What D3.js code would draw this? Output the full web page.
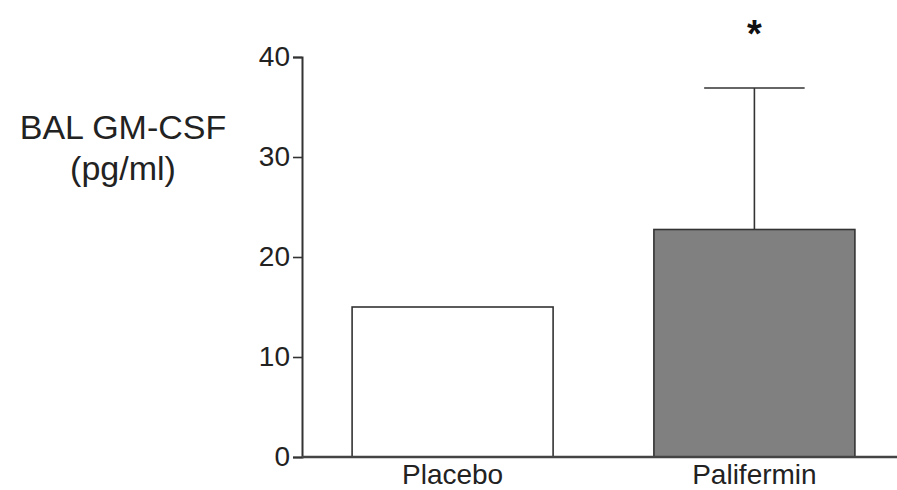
<!DOCTYPE html>
<html>
<head>
<meta charset="utf-8">
<script src="https://cdn.jsdelivr.net/npm/d3@7"></script>
<style>
  body { margin: 0; background: #fff; }
  text { font-family: Arial, "Liberation Sans", sans-serif; fill: #222; }
</style>
</head>
<body>
<svg id="chart"></svg>
<script>
const W = 897, H = 490;
const margin = {top: 57, right: 0, bottom: 33, left: 302};

// data
const groups = ['Placebo', 'Palifermin'];
const means = [15.0, 22.75];
const errUpper = [null, 36.9];
const marks = ['', '*'];
const fills = ['#ffffff', '#808080'];
const yTicks = [0, 10, 20, 30, 40];

const svg = d3.select("#chart")
    .attr("width", W)
    .attr("height", H);

const y = d3.scaleLinear()
    .domain([0, 40])
    .range([H - margin.bottom, margin.top]);

const x = d3.scaleBand()
    .domain(groups)
    .range([margin.left, 905])
    .paddingInner(0.334)
    .paddingOuter(0.166);

// bars
svg.selectAll(".bar")
    .data(groups)
    .enter()
    .append("rect")
    .attr("class", "bar")
    .attr("x", d => x(d))
    .attr("width", x.bandwidth())
    .attr("y", (d, i) => y(means[i]))
    .attr("height", (d, i) => y(0) - y(means[i]))
    .attr("fill", (d, i) => fills[i])
    .attr("stroke", "#333")
    .attr("stroke-width", 1.6);

// error bars (upper only)
groups.forEach((g, i) => {
    if (errUpper[i] == null) return;
    const cx = x(g) + x.bandwidth() / 2;
    svg.append("line")
        .attr("x1", cx).attr("x2", cx)
        .attr("y1", y(means[i])).attr("y2", y(errUpper[i]))
        .attr("stroke", "#333").attr("stroke-width", 1.6);
    svg.append("line")
        .attr("x1", cx - x.bandwidth() / 4).attr("x2", cx + x.bandwidth() / 4)
        .attr("y1", y(errUpper[i])).attr("y2", y(errUpper[i]))
        .attr("stroke", "#333").attr("stroke-width", 1.6);
});

// significance star
svg.selectAll(".mark")
    .data(groups)
    .enter()
    .append("text")
    .attr("class", "mark")
    .attr("x", d => x(d) + x.bandwidth() / 2)
    .attr("y", 47)
    .attr("text-anchor", "middle")
    .attr("font-size", "38px")
    .attr("font-weight", "bold")
    .style("fill", "#111")
    .text((d, i) => marks[i]);

// y axis
const yAxis = d3.axisLeft(y)
    .tickValues(yTicks)
    .tickSize(9)
    .tickPadding(3);

const yg = svg.append("g")
    .attr("transform", `translate(${margin.left},0)`)
    .call(yAxis);
yg.select(".domain").attr("stroke", "#333").attr("stroke-width", 2);
yg.selectAll(".tick line").attr("stroke", "#333").attr("stroke-width", 1.6);
yg.selectAll(".tick text")
    .attr("font-size", "28px")
    .attr("fill", "#222")
    .style("font-family", "Arial, 'Liberation Sans', sans-serif");

// baseline
svg.append("line")
    .attr("x1", margin.left).attr("x2", W)
    .attr("y1", y(0)).attr("y2", y(0))
    .attr("stroke", "#444").attr("stroke-width", 2.5);

// category labels
svg.selectAll(".cat")
    .data(groups)
    .enter()
    .append("text")
    .attr("class", "cat")
    .attr("x", d => x(d) + x.bandwidth() / 2)
    .attr("y", 484)
    .attr("text-anchor", "middle")
    .attr("font-size", "28px")
    .text(d => d);

// y label
const ylab = svg.append("text")
    .attr("x", 123)
    .attr("y", 139)
    .attr("text-anchor", "middle")
    .attr("font-size", "34px");
ylab.append("tspan").attr("x", 123).attr("y", 139).text("BAL GM-CSF");
ylab.append("tspan").attr("x", 123).attr("y", 180).text("(pg/ml)");
</script>
</body>
</html>
